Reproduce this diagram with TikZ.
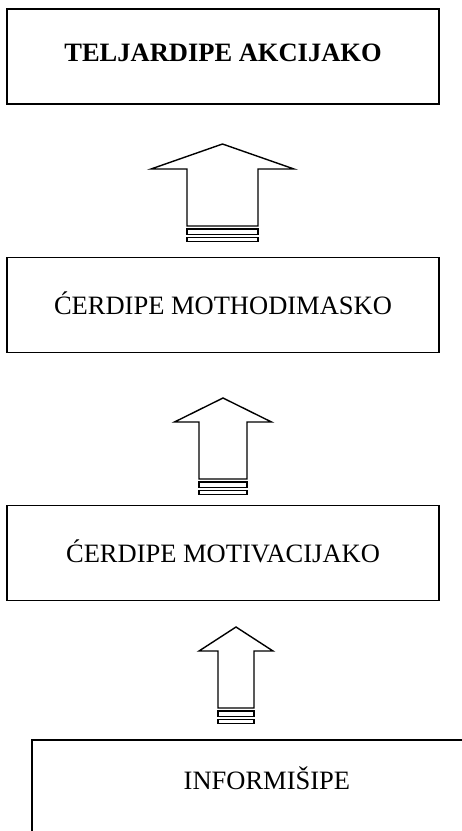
\documentclass[tikz,border=0pt]{standalone}
\usepackage{fontspec}
\setmainfont{Liberation Serif}

\begin{document}
\begin{tikzpicture}[x=1pt,y=-1pt,
  stage/.style={draw,line width=1.8pt,minimum width=432pt,minimum height=95pt,
    inner sep=0pt,font=\fontsize{26.5}{30}\selectfont},
  uparrow/.style={draw,line width=1.4pt,line join=miter}]
\clip (0,0) rectangle (462,831);
\node[stage,text depth=8pt] (akcija) at (223,56.5) {\textbf{TELJARDIPE AKCIJAKO}};
\node[stage,text depth=3pt] (mothodimasko) at (223,305) {ĆERDIPE MOTHODIMASKO};
\node[stage,text depth=3pt] (motivacijako) at (223,553) {ĆERDIPE MOTIVACIJAKO};
\node[draw,line width=1.8pt,minimum width=470pt,minimum height=130pt,inner sep=0pt,
  anchor=north west,font=\fontsize{26.5}{30}\selectfont,text depth=54pt] (informisipe) at (31,739) {INFORMIŠIPE};
% block arrows: centre, tip, shoulder, half widths, shaft bottom
\foreach \cx/\tip/\sh/\hw/\sw/\bot in {222.5/144/169/71.5/35.5/226,
    223/398/422/48.5/24/479, 236/627/651/37/18/708}{
  \draw[uparrow] (\cx,\tip) -- (\cx+\hw,\sh) -- (\cx+\sw,\sh) -- (\cx+\sw,\bot)
    -- (\cx-\sw,\bot) -- (\cx-\sw,\sh) -- (\cx-\hw,\sh) -- cycle;
  \draw[uparrow] (\cx-\sw,\bot+3) rectangle (\cx+\sw,\bot+8.5);
  \draw[uparrow] (\cx-\sw,\bot+11.5) rectangle (\cx+\sw,\bot+15.5);
}
\end{tikzpicture}
\end{document}
